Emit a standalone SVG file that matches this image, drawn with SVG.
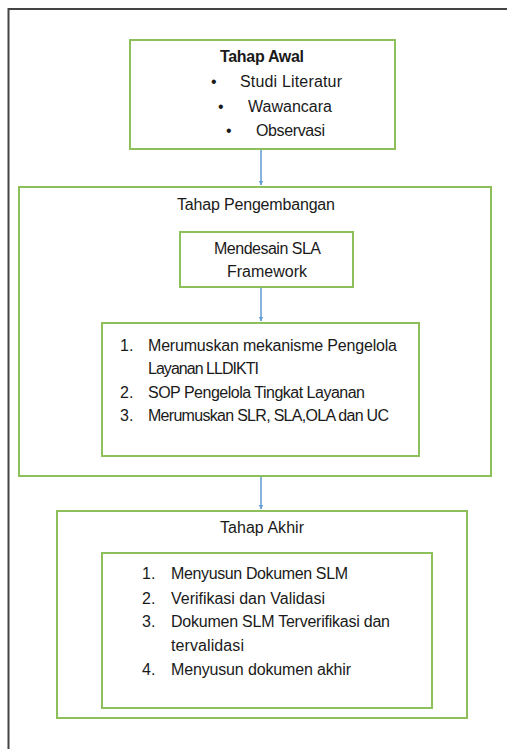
<svg xmlns="http://www.w3.org/2000/svg" width="507" height="749" viewBox="0 0 507 749">
<style>
.box{fill:#ffffff;stroke:#8dbf5a;stroke-width:2}
.t{font-family:"Liberation Sans",Arial,sans-serif;font-size:16px;fill:#1a1a1a}
.b{font-weight:bold}
.con{stroke:#6a9fd6;stroke-width:1.6;fill:none}
</style>
<defs>
<marker id="ah" viewBox="0 0 10 10" refX="9" refY="5" markerWidth="5" markerHeight="5" orient="auto" markerUnits="userSpaceOnUse">
<path d="M0,0 L10,5 L0,10 z" fill="#6a9fd6"/>
</marker>
</defs>
<rect width="507" height="749" fill="#ffffff"/>
<path d="M8.5,749 V9 H507" stroke="#444444" stroke-width="2" fill="none"/>
<g id="tahap-awal">
<rect class="box" x="130" y="40" width="265" height="109"/>
<text class="t b" x="220" y="62" textLength="84">Tahap Awal</text>
<text class="t" x="211" y="87">•</text><text class="t" x="240" y="87" textLength="102">Studi Literatur</text>
<text class="t" x="218" y="112">•</text><text class="t" x="248" y="112" textLength="84">Wawancara</text>
<text class="t" x="226" y="136">•</text><text class="t" x="256" y="136" textLength="69">Observasi</text>
</g>
<g id="tahap-pengembangan">
<rect class="box" x="19" y="187" width="472" height="289"/>
<text class="t" x="177" y="210" textLength="158">Tahap Pengembangan</text>
</g>
<g id="mendesain">
<rect class="box" x="180" y="232" width="173" height="55"/>
<text class="t" x="214" y="254" textLength="107">Mendesain SLA</text>
<text class="t" x="227" y="277" textLength="80">Framework</text>
</g>
<g id="list-pengembangan">
<rect class="box" x="102" y="323" width="317" height="133"/>
<text class="t" x="120" y="351">1.</text><text class="t" x="148" y="351" textLength="249">Merumuskan mekanisme Pengelola</text>
<text class="t" x="148" y="374" textLength="111">Layanan LLDIKTI</text>
<text class="t" x="120" y="398">2.</text><text class="t" x="148" y="398" textLength="217">SOP Pengelola Tingkat Layanan</text>
<text class="t" x="120" y="421">3.</text><text class="t" x="148" y="421" textLength="241">Merumuskan SLR, SLA,OLA dan UC</text>
</g>
<g id="tahap-akhir">
<rect class="box" x="57" y="511" width="410" height="207"/>
<text class="t" x="220" y="533" textLength="84">Tahap Akhir</text>
</g>
<g id="list-akhir">
<rect class="box" x="102" y="553" width="330" height="155"/>
<text class="t" x="142" y="579">1.</text><text class="t" x="171" y="579" textLength="177">Menyusun Dokumen SLM</text>
<text class="t" x="142" y="604">2.</text><text class="t" x="171" y="604" textLength="154">Verifikasi dan Validasi</text>
<text class="t" x="142" y="627">3.</text><text class="t" x="171" y="627" textLength="219">Dokumen SLM Terverifikasi dan</text>
<text class="t" x="171" y="651" textLength="73">tervalidasi</text>
<text class="t" x="142" y="675">4.</text><text class="t" x="171" y="675" textLength="180">Menyusun dokumen akhir</text>
</g>
<g id="connectors">
<line class="con" x1="261" y1="150" x2="261" y2="185" marker-end="url(#ah)"/>
<line class="con" x1="261" y1="288" x2="261" y2="321" marker-end="url(#ah)"/>
<line class="con" x1="261" y1="477" x2="261" y2="509" marker-end="url(#ah)"/>
</g>
</svg>
